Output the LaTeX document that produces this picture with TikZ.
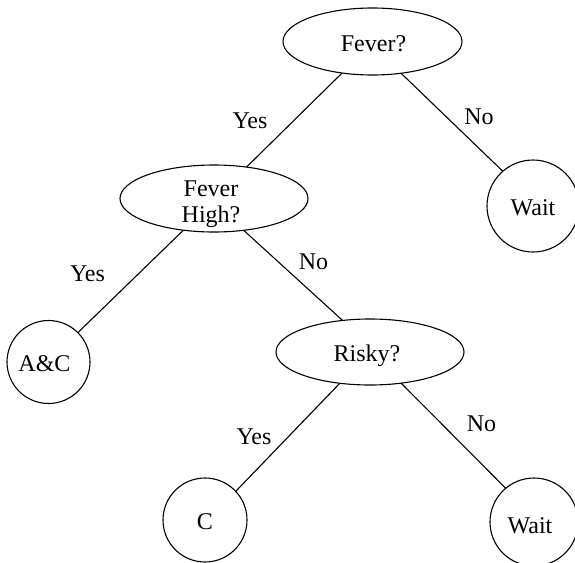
\documentclass[tikz,border=0pt]{standalone}
\usepackage{fontspec}
\setmainfont{Liberation Serif}
\usetikzlibrary{shapes.geometric}
\begin{document}
\begin{tikzpicture}[x=1pt,y=-1pt,
  decision/.style={draw, ellipse, inner sep=0pt, outer sep=0pt, line width=1.1pt, minimum height=67pt},
  leaf/.style={draw, circle, inner sep=0pt, outer sep=0pt, line width=1.1pt},
  txt/.style={anchor=base, inner sep=0pt, outer sep=0pt, align=center, font=\fontsize{24}{26}\selectfont},
  branch/.style={line width=1.1pt}]
\useasboundingbox (0,0) rectangle (575,562);
\clip (0,0) rectangle (575,562);
% shapes
\node[decision, minimum width=179pt] (fever) at (372.5,41.5) {};
\node[decision, minimum width=188pt] (high) at (214,198.5) {};
\node[decision, minimum width=188pt, minimum height=66pt] (risky) at (370,352) {};
\node[leaf, minimum size=92pt] (wait1) at (533,206) {};
\node[leaf, minimum size=83pt] (ac) at (48.5,362) {};
\node[leaf, minimum size=84pt] (c) at (205,520) {};
\node[leaf, minimum size=88pt] (wait2) at (534,522) {};
% texts in shapes
\node[txt] (feverT) at (373.5,51.5) {Fever?};
\node[txt] (highT) at (211,222) {Fever\\High?};
\node[txt] (riskyT) at (367,361) {Risky?};
\node[txt] (wait1T) at (533,215) {Wait};
\node[txt] (acT) at (44.5,371) {A\&C};
\node[txt] (cT) at (205,529) {C};
\node[txt] (wait2T) at (530,533) {Wait};
% connectors
\draw[branch] (fever.226) -- (high.44);
\draw[branch] (fever.312) -- (wait1.131);
\draw[branch] (high.226) -- (ac.45);
\draw[branch] (high.313) -- (risky.131);
\draw[branch] (risky.226) -- (c.43);
\draw[branch] (risky.315) -- (wait2.130);
% branch labels
\node[txt] (y1) at (250,128) {Yes};
\node[txt] (n1) at (479,124) {No};
\node[txt] (y2) at (87.5,281) {Yes};
\node[txt] (n2) at (313.5,269) {No};
\node[txt] (y3) at (254,444) {Yes};
\node[txt] (n3) at (481.5,431) {No};
\end{tikzpicture}
\end{document}
